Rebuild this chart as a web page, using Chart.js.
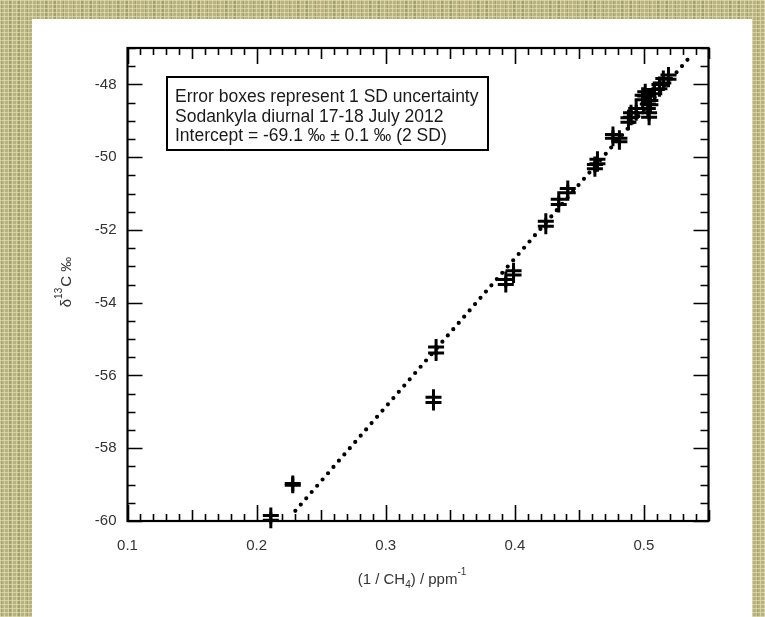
<!DOCTYPE html>
<html>
<head>
<meta charset="utf-8">
<script src="https://cdn.jsdelivr.net/npm/chart.js@4.4.0/dist/chart.umd.min.js"></script>
<style>
  html, body { margin: 0; padding: 0; }
  body {
    width: 765px; height: 617px; position: relative; overflow: hidden;
    background-color: #b9b27c;
    background-image:
      repeating-linear-gradient(0deg, rgba(235,232,200,0.55) 0 1px, transparent 1px 4px),
      repeating-linear-gradient(90deg, rgba(235,232,200,0.55) 0 1px, transparent 1px 4px),
      repeating-linear-gradient(90deg, rgba(120,130,70,0.35) 0 2px, transparent 2px 9px);
  }
  #panel { position: absolute; left: 32px; top: 19px; width: 720px; height: 598px; background: #fff; }
  #chart { position: absolute; left: 0; top: 0; }
</style>
</head>
<body>
<div id="panel"></div>
<canvas id="chart" width="765" height="617"></canvas>
<script>
// =====================
// DATOS
// =====================
// 1/CH4 (ppm^-1) de cada medida, en parejas (dos medidas por punto)
const invCH4 = [
    0.211, 0.211,
    0.228, 0.228,
    0.339, 0.339,
    0.337, 0.337,
    0.399, 0.399,
    0.393, 0.393,
    0.424, 0.424,
    0.434, 0.434,
    0.441, 0.441,
    0.464, 0.464,
    0.462, 0.462,
    0.476, 0.476,
    0.481, 0.481,
    0.488, 0.488,
    0.490, 0.490,
    0.494, 0.494,
    0.499, 0.499,
    0.501, 0.501,
    0.504, 0.504,
    0.505, 0.505,
    0.503, 0.503,
    0.508, 0.508,
    0.512, 0.512,
    0.515, 0.515,
    0.519, 0.519
];
// delta 13C (permil)
const d13C = [
    -59.85, -59.98,
    -58.97, -59.02,
    -55.22, -55.38,
    -56.60, -56.74,
    -53.12, -53.24,
    -53.36, -53.50,
    -51.76, -51.90,
    -51.16, -51.30,
    -50.86, -50.98,
    -50.06, -50.18,
    -50.20, -50.32,
    -49.38, -49.48,
    -49.48, -49.58,
    -48.92, -49.04,
    -48.78, -48.90,
    -48.66, -48.78,
    -48.30, -48.42,
    -48.20, -48.32,
    -48.78, -48.90,
    -48.44, -48.56,
    -48.54, -48.66,
    -48.14, -48.26,
    -48.00, -48.12,
    -47.84, -47.96,
    -47.74, -47.86
];
// recta de ajuste (Keeling), extremos
const fitX = [0.230, 0.537];
const fitY = [-59.72, -47.19];

// ejes
const xMin = 0.1, xMax = 0.55, xStep = 0.1;
const yMin = -60, yMax = -47, yStep = 2;

const notas = [
    "Error boxes represent 1 SD uncertainty",
    "Sodankyla diurnal 17-18 July 2012",
    "Intercept = -69.1 \u2030 \u00b1 0.1 \u2030 (2 SD)"
];

const FONT = '"Liberation Sans", Arial, sans-serif';
const puntos = invCH4.map((x, i) => ({ x: x, y: d13C[i] }));
const recta = fitX.map((x, i) => ({ x: x, y: fitY[i] }));

// =====================
// MARCO, TICKS HACIA DENTRO, TITULOS Y CAJA
// =====================
const marcoPlugin = {
    id: "marco",
    beforeDatasetsDraw(chart) {
        const ctx = chart.ctx;
        const ca = chart.chartArea;
        const sx = chart.scales.x, sy = chart.scales.y;
        ctx.save();
        ctx.strokeStyle = "#000";
        ctx.lineWidth = 1.6;
        ctx.beginPath();
        // eje x: menor cada 0.01, medio cada 0.05, mayor cada 0.1
        for (let i = 0; i <= Math.round((xMax - xMin) / 0.01); i++) {
            const v = xMin + i * 0.01;
            const px = Math.round(sx.getPixelForValue(v)) + 0.5;
            let len = 7;
            if (i % 10 === 0) len = 16;
            else if (i % 5 === 0) len = 11;
            ctx.moveTo(px, ca.bottom); ctx.lineTo(px, ca.bottom - len);
            ctx.moveTo(px, ca.top); ctx.lineTo(px, ca.top + len);
        }
        // eje y: menor cada 0.5, mayor cada 2
        for (let i = 0; i <= Math.round((yMax - yMin) / 0.5); i++) {
            const v = yMin + i * 0.5;
            const py = Math.round(sy.getPixelForValue(v)) + 0.5;
            const len = (i % 4 === 0) ? 15 : 8;
            ctx.moveTo(ca.left, py); ctx.lineTo(ca.left + len, py);
            ctx.moveTo(ca.right, py); ctx.lineTo(ca.right - len, py);
        }
        ctx.stroke();
        ctx.lineWidth = 2.2;
        ctx.strokeRect(ca.left, ca.top, ca.right - ca.left, ca.bottom - ca.top);
        ctx.restore();
    },
    afterDraw(chart) {
        const ctx = chart.ctx;
        const ca = chart.chartArea;
        ctx.save();
        ctx.fillStyle = "#333";
        ctx.textBaseline = "alphabetic";

        // titulo eje x: (1 / CH4) / ppm-1
        const cx = (ca.left + ca.right) / 2 - 6;
        const by = ca.bottom + 63;
        const p1 = "(1 / CH", p2 = "4", p3 = ") / ppm", p4 = "-1";
        ctx.font = "15px " + FONT;
        const w1 = ctx.measureText(p1).width, w3 = ctx.measureText(p3).width;
        ctx.font = "10px " + FONT;
        const w2 = ctx.measureText(p2).width, w4 = ctx.measureText(p4).width;
        let x0 = cx - (w1 + w2 + w3 + w4) / 2;
        ctx.font = "15px " + FONT;
        ctx.fillText(p1, x0, by); x0 += w1;
        ctx.font = "10px " + FONT;
        ctx.fillText(p2, x0, by + 4); x0 += w2;
        ctx.font = "15px " + FONT;
        ctx.fillText(p3, x0, by); x0 += w3;
        ctx.font = "10px " + FONT;
        ctx.fillText(p4, x0, by - 9);

        // titulo eje y: delta 13C permil (girado)
        ctx.translate(ca.left - 62, (ca.top + ca.bottom) / 2 - 2);
        ctx.rotate(-Math.PI / 2);
        const q1 = "\u03b4", q2 = "13", q3 = "C \u2030";
        ctx.font = "15px " + FONT;
        const v1 = ctx.measureText(q1).width, v3 = ctx.measureText(q3).width;
        ctx.font = "10px " + FONT;
        const v2 = ctx.measureText(q2).width;
        let y0 = -(v1 + v2 + v3) / 2;
        ctx.font = "15px " + FONT;
        ctx.fillText(q1, y0, 5); y0 += v1;
        ctx.font = "10px " + FONT;
        ctx.fillText(q2, y0, -4); y0 += v2 + 1;
        ctx.font = "15px " + FONT;
        ctx.fillText(q3, y0, 5);
        ctx.restore();

        // caja de texto
        ctx.save();
        const bx = ca.left + 39.5, bt = ca.top + 29;
        ctx.strokeStyle = "#000";
        ctx.lineWidth = 2;
        ctx.strokeRect(bx, bt, 321, 73);
        ctx.fillStyle = "#1a1a1a";
        ctx.font = "17.5px " + FONT;
        notas.forEach((t, i) => {
            ctx.fillText(t, bx + 8, bt + 25 + i * 19.5, 307);
        });
        ctx.restore();
    }
};

// =====================
// GRAFICO
// =====================
new Chart(document.getElementById("chart"), {
    type: "scatter",
    data: {
        datasets: [
            {
                label: "medidas",
                data: puntos,
                pointStyle: "cross",
                pointRadius: 8,
                pointBorderWidth: 3,
                borderColor: "#000",
                backgroundColor: "#000",
                clip: false
            },
            {
                label: "ajuste",
                data: recta,
                showLine: true,
                pointRadius: 0,
                borderColor: "#000",
                borderWidth: 4.2,
                borderDash: [0, 8.3],
                borderCapStyle: "round"
            }
        ]
    },
    options: {
        responsive: false,
        animation: false,
        layout: { padding: { left: 0, top: 48, right: 56.5, bottom: 0 } },
        plugins: {
            legend: { display: false },
            tooltip: { enabled: false }
        },
        scales: {
            x: {
                type: "linear",
                min: xMin,
                max: xMax,
                grid: { display: false, drawTicks: false },
                border: { display: false },
                ticks: {
                    stepSize: xStep,
                    includeBounds: false,
                    padding: 16,
                    maxRotation: 0,
                    color: "#333",
                    font: { family: FONT, size: 15 },
                    callback: v => v.toFixed(1)
                },
                afterFit: s => { s.height = 96; }
            },
            y: {
                type: "linear",
                min: yMin,
                max: yMax,
                grid: { display: false, drawTicks: false },
                border: { display: false },
                ticks: {
                    stepSize: yStep,
                    includeBounds: false,
                    padding: 11,
                    color: "#333",
                    font: { family: FONT, size: 15 },
                    callback: v => String(Math.round(v))
                },
                afterFit: s => { s.width = 127.5; }
            }
        }
    },
    plugins: [marcoPlugin]
});
</script>
</body>
</html>
